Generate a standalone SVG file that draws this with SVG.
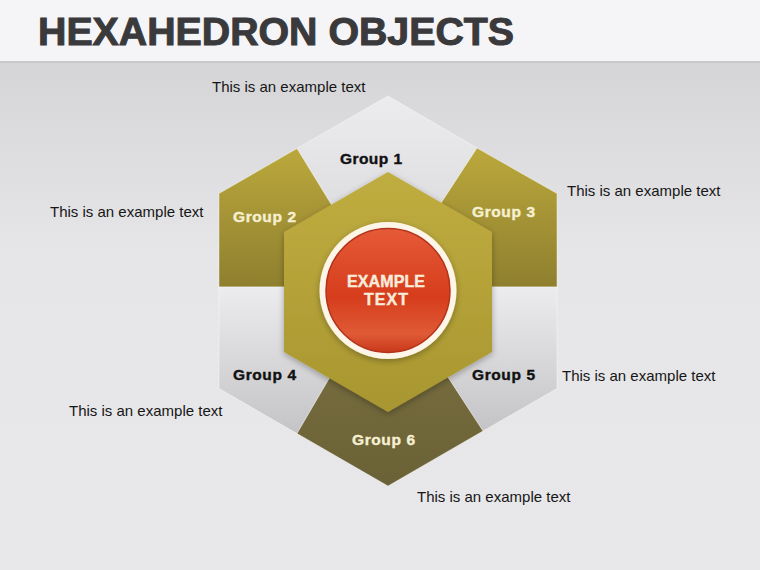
<svg xmlns="http://www.w3.org/2000/svg" width="760" height="570" viewBox="0 0 760 570">
<defs>
  <linearGradient id="bg" x1="0" y1="0" x2="0" y2="1">
    <stop offset="0" stop-color="#d0d0d2"/>
    <stop offset="0.45" stop-color="#e6e6e8"/>
    <stop offset="1" stop-color="#e8e8ea"/>
  </linearGradient>
  <linearGradient id="olive" x1="0" y1="0" x2="0" y2="1">
    <stop offset="0" stop-color="#bba83c"/>
    <stop offset="1" stop-color="#8d7e2e"/>
  </linearGradient>
  <linearGradient id="lightTop" x1="0" y1="0" x2="0" y2="1">
    <stop offset="0" stop-color="#ececee"/>
    <stop offset="1" stop-color="#d4d4d6"/>
  </linearGradient>
  <linearGradient id="lightBot" x1="0" y1="0" x2="0" y2="1">
    <stop offset="0" stop-color="#ececee"/>
    <stop offset="1" stop-color="#c4c4c6"/>
  </linearGradient>
  <linearGradient id="darkOlive" x1="0" y1="0" x2="0" y2="1">
    <stop offset="0" stop-color="#7c7243"/>
    <stop offset="1" stop-color="#6a6136"/>
  </linearGradient>
  <linearGradient id="innerHex" x1="0" y1="0" x2="0" y2="1">
    <stop offset="0" stop-color="#c0ad40"/>
    <stop offset="1" stop-color="#a89630"/>
  </linearGradient>
  <linearGradient id="red" x1="0" y1="0" x2="0" y2="1">
    <stop offset="0" stop-color="#e65a38"/>
    <stop offset="0.55" stop-color="#d63d1c"/>
    <stop offset="0.85" stop-color="#e05a36"/>
    <stop offset="1" stop-color="#c8381a"/>
  </linearGradient>
  <filter id="shadow" x="-20%" y="-20%" width="140%" height="140%">
    <feDropShadow dx="0" dy="2" stdDeviation="3" flood-color="#000" flood-opacity="0.3"/>
  </filter>
</defs>
<style>
  .lbl { font-family: "Liberation Sans", Arial, sans-serif; font-size: 15px; fill: #161616; }
  .grp { font-family: "Liberation Sans", Arial, sans-serif; font-size: 15.5px; font-weight: bold; text-anchor: middle; stroke-width: 0.4; }
  .dark { fill: #111111; stroke: #111111; }
  .cream { fill: #f6f0d2; stroke: #f6f0d2; }
  .seg { stroke: #ffffff; stroke-opacity: 0.5; stroke-width: 0.8; }
  .ctr { font-family: "Liberation Sans", Arial, sans-serif; font-size: 16px; font-weight: bold; fill: #f8ecdc; stroke: #f8ecdc; stroke-width: 0.4; text-anchor: middle; }
</style>

<!-- background -->
<rect x="0" y="0" width="760" height="570" fill="url(#bg)"/>
<rect x="0" y="0" width="760" height="62" fill="#f5f5f7"/>
<rect x="0" y="61" width="760" height="2" fill="#c8c8ca"/>
<text x="38" y="45" font-family="Liberation Sans, Arial, sans-serif" font-size="38" font-weight="bold" fill="#3a393c" stroke="#3a393c" stroke-width="1" textLength="476" lengthAdjust="spacingAndGlyphs">HEXAHEDRON OBJECTS</text>

<!-- outer segments -->
<g id="group1">
  <polygon class="seg" points="297,148.5 388,96 477,148 430,220 388,291 342,222" fill="url(#lightTop)" stroke="#b8b8ba"/>
  <text class="grp dark" x="371" y="164" textLength="62">Group 1</text>
</g>
<g id="group2">
  <polygon class="seg" points="219,193.5 297,148.5 342,222 388,291 300,287 219,287" fill="url(#olive)"/>
  <text class="grp cream" x="264.5" y="222" textLength="63">Group 2</text>
</g>
<g id="group3">
  <polygon class="seg" points="477,148 557,193.5 557,287 470,287 388,291 430,220" fill="url(#olive)"/>
  <text class="grp cream" x="503.5" y="217" textLength="63">Group 3</text>
</g>
<g id="group4">
  <polygon class="seg" points="219,287 300,287 388,291 340,360 297,433.5 219,388.5" fill="url(#lightBot)" stroke="#b8b8ba"/>
  <text class="grp dark" x="264.5" y="380" textLength="63">Group 4</text>
</g>
<g id="group5">
  <polygon class="seg" points="557,287 557,388.5 483,431 438,362 388,291 470,287" fill="url(#lightBot)" stroke="#b8b8ba"/>
  <text class="grp dark" x="503.5" y="380" textLength="63">Group 5</text>
</g>
<g id="group6">
  <polygon class="seg" points="297,433.5 340,360 388,291 438,362 483,431 388,486" fill="url(#darkOlive)"/>
  <text class="grp cream" x="383.5" y="445" textLength="63">Group 6</text>
</g>

<!-- inner hexagon and center -->
<g id="center">
  <polygon points="388,172 492,232 492,352 388,412 284,352 284,232" fill="url(#innerHex)" filter="url(#shadow)"/>
  <circle cx="388" cy="290.5" r="68.5" fill="#fcf5e8" filter="url(#shadow)"/>
  <circle cx="388" cy="290.5" r="62" fill="url(#red)" stroke="#b3321a" stroke-width="1.5"/>
  <text class="ctr" x="386" y="287" textLength="78">EXAMPLE</text>
  <text class="ctr" x="386" y="305" textLength="44">TEXT</text>
</g>

<!-- descriptive texts -->
<g id="texts">
  <text class="lbl" x="212" y="92">This is an example text</text>
  <text class="lbl" x="50" y="217">This is an example text</text>
  <text class="lbl" x="567" y="196">This is an example text</text>
  <text class="lbl" x="562" y="381">This is an example text</text>
  <text class="lbl" x="69" y="416">This is an example text</text>
  <text class="lbl" x="417" y="502">This is an example text</text>
</g>
</svg>
